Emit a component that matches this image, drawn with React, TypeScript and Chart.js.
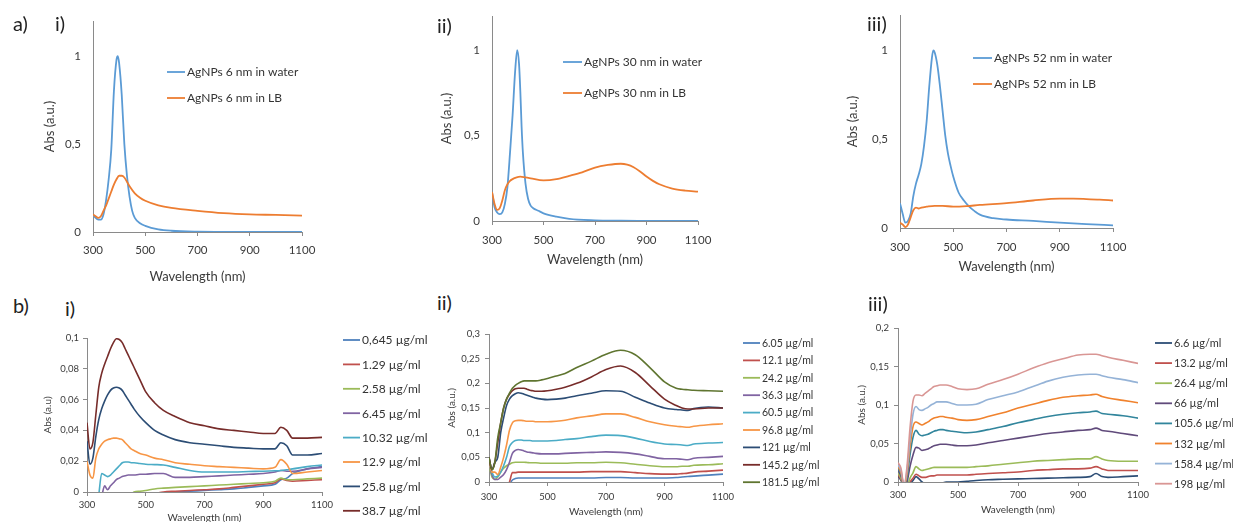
import React, { useEffect, useRef } from 'react';
import { Chart, registerables } from 'chart.js';

Chart.register(...registerables);

const FONT = 'Lato, "Open Sans", "DejaVu Sans", sans-serif';
const AXIS = '#8a8a8a';
const TXT = '#3a3a3a';

// ---------- shared tick values ----------
const xTickValues = [300, 500, 700, 900, 1100];
const yTicksTop = [0, 0.5, 1];
const yTicksB1 = [0, 0.02, 0.04, 0.06, 0.08, 0.1];
const yTicksB2 = [0, 0.05, 0.1, 0.15, 0.2, 0.25, 0.3];
const yTicksB3 = [0, 0.05, 0.1, 0.15, 0.2];

// ---------- a) i) 6 nm ----------
const wlA1water = [300, 310, 320, 330, 340, 350, 360, 370, 380, 390, 395, 400, 410, 420, 430, 440, 450, 460, 480, 500, 550, 600, 700, 800, 900, 1000, 1100];
const waterA1 = [0.10, 0.08, 0.07, 0.07, 0.10, 0.18, 0.30, 0.47, 0.80, 0.98, 1.0, 0.96, 0.78, 0.50, 0.32, 0.20, 0.12, 0.08, 0.05, 0.035, 0.015, 0.007, 0.002, 0.001, 0, 0, 0];
const wlA1lb = [300, 310, 320, 330, 340, 350, 360, 370, 380, 390, 400, 410, 420, 440, 460, 480, 500, 550, 600, 700, 800, 900, 1000, 1100];
const lbA1 = [0.10, 0.09, 0.08, 0.09, 0.12, 0.15, 0.19, 0.23, 0.27, 0.30, 0.32, 0.32, 0.31, 0.26, 0.22, 0.195, 0.178, 0.152, 0.137, 0.12, 0.107, 0.10, 0.097, 0.093];

// ---------- a) ii) 30 nm ----------
const wlA2water = [300, 310, 320, 330, 340, 350, 360, 370, 380, 390, 398, 405, 410, 415, 420, 430, 440, 450, 460, 480, 500, 550, 600, 700, 800, 900, 1000, 1100];
const waterA2 = [0.17, 0.08, 0.05, 0.04, 0.05, 0.10, 0.20, 0.40, 0.62, 0.88, 1.0, 0.92, 0.76, 0.55, 0.40, 0.22, 0.13, 0.09, 0.075, 0.06, 0.045, 0.025, 0.012, 0.004, 0.002, 0.001, 0, 0];
const wlA2lb = [300, 310, 320, 330, 340, 350, 360, 370, 380, 390, 410, 430, 450, 500, 550, 600, 650, 700, 750, 800, 825, 850, 875, 900, 925, 950, 1000, 1050, 1100];
const lbA2 = [0.17, 0.10, 0.065, 0.075, 0.12, 0.18, 0.215, 0.235, 0.245, 0.252, 0.26, 0.255, 0.25, 0.238, 0.245, 0.264, 0.285, 0.313, 0.328, 0.335, 0.33, 0.315, 0.29, 0.26, 0.235, 0.215, 0.19, 0.178, 0.172];

// ---------- a) iii) 52 nm ----------
const wlA3water = [300, 310, 320, 330, 340, 350, 360, 370, 380, 390, 400, 410, 420, 425, 430, 440, 450, 460, 470, 480, 490, 500, 520, 540, 560, 580, 600, 650, 700, 800, 900, 1000, 1100];
const waterA3 = [0.14, 0.08, 0.03, 0.04, 0.08, 0.18, 0.25, 0.30, 0.36, 0.46, 0.60, 0.80, 0.96, 1.0, 0.99, 0.92, 0.80, 0.66, 0.52, 0.42, 0.35, 0.29, 0.20, 0.155, 0.12, 0.095, 0.075, 0.055, 0.048, 0.04, 0.03, 0.022, 0.015];
const wlA3lb = [300, 310, 320, 330, 340, 350, 360, 370, 380, 400, 430, 460, 500, 550, 600, 700, 800, 900, 950, 1000, 1050, 1100];
const lbA3 = [0.03, 0.02, 0.005, 0.02, 0.06, 0.10, 0.115, 0.11, 0.115, 0.12, 0.125, 0.125, 0.12, 0.123, 0.13, 0.14, 0.155, 0.165, 0.165, 0.163, 0.16, 0.155];

// ---------- b) shared wavelength grid ----------
const wlB = [300, 310, 320, 330, 340, 350, 360, 370, 380, 390, 400, 410, 420, 430, 440, 450, 460, 480, 500, 530, 560, 600, 650, 700, 750, 800, 850, 900, 940, 960, 980, 1000, 1050, 1100];

// ---------- b) i) 6 nm concentrations ----------
const b1_0645 = [null, null, null, null, null, null, null, null, null, null, null, null, null, null, null, null, null, null, null, null, -0.001, 0.0, 0.0005, 0.001, 0.0015, 0.002, 0.003, 0.004, 0.005, 0.008, 0.009, 0.012, 0.015, 0.0165];
const b1_129 = [null, null, null, null, null, null, null, null, null, null, null, null, null, null, null, null, null, null, null, -0.001, 0.0, 0.0005, 0.001, 0.0015, 0.002, 0.003, 0.004, 0.005, 0.006, 0.0085, 0.0075, 0.007, 0.0075, 0.008];
const b1_258 = [null, null, null, null, null, null, null, null, null, null, null, null, null, null, null, -0.002, 0.0, 0.0005, 0.001, 0.002, 0.0025, 0.003, 0.0035, 0.004, 0.0045, 0.005, 0.0055, 0.006, 0.007, 0.009, 0.008, 0.008, 0.0085, 0.009];
const b1_645 = [null, null, null, null, null, -0.003, 0.004, 0.0015, 0.004, 0.006, 0.008, 0.009, 0.01, 0.0105, 0.011, 0.011, 0.011, 0.0115, 0.0115, 0.012, 0.012, 0.0095, 0.0095, 0.01, 0.0105, 0.011, 0.0115, 0.012, 0.013, 0.014, 0.0135, 0.0135, 0.015, 0.016];
const b1_1032 = [null, null, null, null, -0.002, 0.012, 0.011, 0.010, 0.011, 0.013, 0.015, 0.017, 0.019, 0.0195, 0.0195, 0.019, 0.019, 0.0185, 0.018, 0.0178, 0.0175, 0.016, 0.014, 0.013, 0.013, 0.013, 0.0133, 0.0135, 0.0138, 0.014, 0.0145, 0.015, 0.0165, 0.0175];
const b1_129b = [0.02, 0.011, 0.009, 0.022, 0.028, 0.031, 0.033, 0.034, 0.0345, 0.035, 0.035, 0.0345, 0.034, 0.032, 0.03, 0.028, 0.027, 0.025, 0.024, 0.022, 0.021, 0.019, 0.018, 0.017, 0.0165, 0.016, 0.0155, 0.015, 0.016, 0.021, 0.018, 0.012, 0.013, 0.014];
const b1_258b = [0.033, 0.018, 0.022, 0.036, 0.047, 0.054, 0.059, 0.063, 0.066, 0.0675, 0.068, 0.0675, 0.066, 0.063, 0.06, 0.057, 0.054, 0.049, 0.045, 0.04, 0.037, 0.034, 0.032, 0.031, 0.030, 0.029, 0.0285, 0.028, 0.028, 0.032, 0.030, 0.024, 0.024, 0.025];
const b1_387 = [0.045, 0.028, 0.032, 0.05, 0.068, 0.077, 0.083, 0.088, 0.093, 0.097, 0.0995, 0.099, 0.097, 0.093, 0.089, 0.085, 0.081, 0.073, 0.065, 0.058, 0.053, 0.049, 0.045, 0.043, 0.041, 0.040, 0.039, 0.038, 0.038, 0.042, 0.040, 0.035, 0.035, 0.0355];

// ---------- b) ii) 30 nm concentrations ----------
const b2_605 = [null, null, null, null, null, null, null, -0.005, 0.004, 0.007, 0.008, 0.008, 0.008, 0.008, 0.008, 0.008, 0.008, 0.008, 0.008, 0.008, 0.008, 0.008, 0.008, 0.009, 0.009, 0.008, 0.008, 0.008, 0.009, 0.01, 0.011, 0.012, 0.014, 0.016];
const b2_121 = [null, null, null, null, null, null, -0.01, 0.0, 0.019, 0.019, 0.02, 0.02, 0.02, 0.02, 0.02, 0.02, 0.02, 0.02, 0.02, 0.02, 0.02, 0.02, 0.021, 0.021, 0.021, 0.019, 0.017, 0.016, 0.016, 0.017, 0.018, 0.02, 0.022, 0.024];
const b2_242 = [0.035, 0.01, 0.005, 0.01, 0.02, 0.028, 0.033, 0.036, 0.039, 0.04, 0.04, 0.04, 0.04, 0.0395, 0.039, 0.039, 0.039, 0.038, 0.038, 0.038, 0.038, 0.039, 0.039, 0.04, 0.039, 0.036, 0.033, 0.031, 0.031, 0.032, 0.032, 0.034, 0.035, 0.037];
const b2_363 = [0.04, 0.015, 0.005, 0.005, 0.01, 0.015, 0.025, 0.04, 0.058, 0.064, 0.066, 0.065, 0.063, 0.061, 0.06, 0.059, 0.058, 0.057, 0.057, 0.057, 0.058, 0.059, 0.06, 0.061, 0.06, 0.057, 0.052, 0.047, 0.047, 0.046, 0.045, 0.048, 0.05, 0.052];
const b2_605b = [0.04, 0.02, 0.01, 0.012, 0.02, 0.033, 0.05, 0.072, 0.08, 0.084, 0.085, 0.085, 0.084, 0.084, 0.084, 0.083, 0.083, 0.083, 0.083, 0.084, 0.086, 0.088, 0.092, 0.095, 0.094, 0.089, 0.082, 0.077, 0.076, 0.075, 0.074, 0.077, 0.079, 0.08];
const b2_968 = [0.045, 0.02, 0.02, 0.015, 0.03, 0.05, 0.075, 0.105, 0.12, 0.124, 0.125, 0.125, 0.124, 0.123, 0.123, 0.123, 0.122, 0.122, 0.122, 0.123, 0.125, 0.13, 0.134, 0.138, 0.138, 0.131, 0.122, 0.116, 0.113, 0.112, 0.111, 0.113, 0.116, 0.118];
const b2_1210 = [0.05, 0.025, 0.04, 0.05, 0.1, 0.13, 0.155, 0.168, 0.175, 0.179, 0.181, 0.18, 0.178, 0.176, 0.174, 0.172, 0.17, 0.168, 0.167, 0.168, 0.17, 0.175, 0.18, 0.185, 0.184, 0.172, 0.16, 0.15, 0.147, 0.146, 0.145, 0.149, 0.152, 0.15];
const b2_1452 = [0.05, 0.025, 0.04, 0.08, 0.12, 0.15, 0.168, 0.178, 0.185, 0.189, 0.19, 0.19, 0.19, 0.188, 0.186, 0.185, 0.184, 0.184, 0.185, 0.188, 0.192, 0.2, 0.213, 0.228, 0.235, 0.222, 0.195, 0.168, 0.155, 0.15, 0.148, 0.148, 0.15, 0.15];
const b2_1815 = [0.05, 0.025, 0.04, 0.09, 0.12, 0.15, 0.168, 0.18, 0.19, 0.196, 0.2, 0.203, 0.205, 0.205, 0.205, 0.205, 0.205, 0.207, 0.21, 0.215, 0.22, 0.232, 0.245, 0.259, 0.267, 0.258, 0.232, 0.203, 0.19, 0.188, 0.187, 0.186, 0.185, 0.184];

// ---------- b) iii) 52 nm concentrations ----------
const b3_66 = [0.008, 0.002, -0.005, -0.005, -0.002, 0.002, 0.007, 0.004, 0.0, -0.002, -0.002, -0.002, -0.002, -0.002, -0.002, -0.001, 0.0, 0.0, 0.0, 0.001, 0.002, 0.003, 0.0035, 0.004, 0.0045, 0.005, 0.0055, 0.006, 0.007, 0.011, 0.007, 0.006, 0.007, 0.008];
const b3_132 = [0.01, 0.003, -0.005, -0.005, 0.0, 0.005, 0.01, 0.008, 0.006, 0.006, 0.007, 0.008, 0.008, 0.009, 0.009, 0.009, 0.009, 0.009, 0.009, 0.009, 0.01, 0.011, 0.012, 0.013, 0.015, 0.016, 0.017, 0.017, 0.018, 0.02, 0.017, 0.015, 0.015, 0.015];
const b3_264 = [0.012, 0.005, -0.005, -0.005, 0.005, 0.012, 0.02, 0.017, 0.015, 0.016, 0.017, 0.018, 0.019, 0.019, 0.019, 0.019, 0.019, 0.019, 0.019, 0.019, 0.02, 0.021, 0.023, 0.025, 0.027, 0.028, 0.029, 0.03, 0.03, 0.033, 0.03, 0.028, 0.027, 0.027];
const b3_660 = [0.015, 0.008, -0.005, 0.0, 0.02, 0.035, 0.045, 0.044, 0.041, 0.042, 0.043, 0.045, 0.047, 0.048, 0.049, 0.049, 0.049, 0.048, 0.047, 0.047, 0.048, 0.051, 0.054, 0.057, 0.06, 0.063, 0.065, 0.067, 0.068, 0.07, 0.067, 0.066, 0.063, 0.06];
const b3_1056 = [0.018, 0.01, -0.005, 0.005, 0.035, 0.058, 0.067, 0.062, 0.06, 0.061, 0.062, 0.064, 0.066, 0.067, 0.068, 0.068, 0.067, 0.066, 0.065, 0.064, 0.065, 0.068, 0.072, 0.077, 0.081, 0.085, 0.088, 0.09, 0.091, 0.092, 0.089, 0.088, 0.086, 0.083];
const b3_1320 = [0.02, 0.012, -0.005, 0.01, 0.045, 0.072, 0.078, 0.076, 0.074, 0.076, 0.078, 0.081, 0.083, 0.084, 0.085, 0.085, 0.084, 0.083, 0.081, 0.08, 0.081, 0.085, 0.09, 0.096, 0.101, 0.106, 0.11, 0.112, 0.113, 0.114, 0.111, 0.109, 0.106, 0.103];
const b3_1584 = [0.022, 0.015, -0.005, 0.015, 0.055, 0.088, 0.098, 0.094, 0.093, 0.095, 0.097, 0.1, 0.102, 0.104, 0.104, 0.104, 0.104, 0.102, 0.1, 0.1, 0.101, 0.107, 0.112, 0.117, 0.124, 0.131, 0.136, 0.139, 0.14, 0.14, 0.138, 0.136, 0.133, 0.129];
const b3_1980 = [0.025, 0.018, -0.005, 0.02, 0.07, 0.105, 0.113, 0.113, 0.112, 0.115, 0.118, 0.121, 0.124, 0.125, 0.126, 0.126, 0.126, 0.124, 0.121, 0.12, 0.121, 0.127, 0.133, 0.14, 0.148, 0.155, 0.16, 0.165, 0.166, 0.166, 0.164, 0.162, 0.158, 0.154];

// ---------- labels ----------
const labelsB1 = ['0,645 µg/ml', '1.29 µg/ml', '2.58 µg/ml', '6.45 µg/ml', '10.32 µg/ml', '12.9 µg/ml', '25.8 µg/ml', '38.7 µg/ml'];
const labelsB2 = ['6.05 µg/ml', '12.1 µg/ml', '24.2 µg/ml', '36.3 µg/ml', '60.5 µg/ml', '96.8 µg/ml', '121 µg/ml', '145.2 µg/ml', '181.5 µg/ml'];
const labelsB3 = ['6.6 µg/ml', '13.2 µg/ml', '26.4 µg/ml', '66 µg/ml', '105.6 µg/ml', '132 µg/ml', '158.4 µg/ml', '198 µg/ml'];

const colorsB1 = ['#4F81BD', '#C0504D', '#9BBB59', '#8064A2', '#4BACC6', '#F79646', '#2C4D75', '#772C2A'];
const colorsB2 = ['#4F81BD', '#C0504D', '#9BBB59', '#8064A2', '#4BACC6', '#F79646', '#2C4D75', '#772C2A', '#5F7530'];
const colorsB3 = ['#2C4D75', '#C0504D', '#9BBB59', '#604A7B', '#31859C', '#F0822D', '#95B3D7', '#D99694'];

type Series = { label: string; color: string; x: number[]; y: (number | null)[] };

type PanelCfg = {
  L: number; T: number; R: number; B: number; right: number;
  tickY: number; titleY: number; yTitleX: number;
  yMax: number; yTicks: number[]; yTitle: string; yTickMarks: boolean; yTickPad: number;
  tickSize: number; titleSize: number; legendSize: number; lineWidth: number;
  legX: number; legLen: number; legRows: number[];
  series: Series[];
};

const lineLegend = {
  id: 'lineLegend',
  afterDraw(chart: any, _args: any, opts: any) {
    if (!opts || !opts.items) return;
    const ctx = chart.ctx;
    ctx.save();
    ctx.font = opts.font;
    ctx.textBaseline = 'middle';
    ctx.textAlign = 'left';
    opts.items.forEach((it: any, i: number) => {
      const y = opts.rows[i];
      ctx.strokeStyle = it.color;
      ctx.lineWidth = opts.lineWidth;
      ctx.beginPath();
      ctx.moveTo(opts.x, y);
      ctx.lineTo(opts.x + opts.len, y);
      ctx.stroke();
      ctx.fillStyle = opts.color;
      ctx.fillText(it.text, opts.x + opts.len + 2, y + 0.5);
    });
    ctx.restore();
  },
};

const fmt = (v: number) => String(Math.round(v * 1000) / 1000).replace('.', ',');

function Panel({ cfg }: { cfg: PanelCfg }) {
  const ref = useRef<HTMLCanvasElement>(null);
  const cx = cfg.L - 70;
  const cy = cfg.T - 12;
  const cw = cfg.right - cx;
  const lhTick = cfg.tickSize * 1.2;
  const lhTitle = cfg.titleSize * 1.2;
  const ch = Math.round(cfg.titleY + lhTitle / 2 - cy);
  const xh = cy + ch - cfg.B;
  const yw = cfg.L - cx;
  const xTickPad = cfg.tickY - cfg.B - 4 - lhTick / 2;
  const yTitlePad = cfg.yTitleX - cx - lhTitle / 2;

  useEffect(() => {
    const n = cfg.series.length;
    const chart = new Chart(ref.current as HTMLCanvasElement, {
      type: 'line',
      data: {
        datasets: cfg.series.map((s, i) => ({
          label: s.label,
          data: s.x.map((x, j) => ({ x, y: s.y[j] })),
          borderColor: s.color,
          backgroundColor: s.color,
          borderWidth: cfg.lineWidth,
          pointRadius: 0,
          cubicInterpolationMode: 'monotone',
          spanGaps: false,
          order: n - i,
        })),
      } as any,
      options: {
        responsive: false,
        animation: false,
        devicePixelRatio: 1,
        events: [],
        layout: { padding: { top: cfg.T - cy, right: cx + cw - cfg.R, left: 0, bottom: 0 } },
        plugins: {
          legend: { display: false },
          tooltip: { enabled: false },
          lineLegend: {
            items: cfg.series.map((s) => ({ text: s.label, color: s.color })),
            x: cfg.legX - cx,
            len: cfg.legLen,
            rows: cfg.legRows.map((r) => r - cy),
            font: `${cfg.legendSize}px ${FONT}`,
            color: '#333333',
            lineWidth: 1.8,
          },
        } as any,
        scales: {
          x: {
            type: 'linear',
            min: 300,
            max: 1100,
            afterBuildTicks: (s: any) => { s.ticks = xTickValues.map((v) => ({ value: v })); },
            afterFit: (s: any) => { s.height = xh; s.paddingLeft = 0; s.paddingRight = 0; s.paddingTop = 0; s.paddingBottom = 0; },
            grid: { display: true, drawOnChartArea: false, drawTicks: true, tickLength: 4, color: AXIS },
            border: { display: true, color: AXIS, width: 1 },
            ticks: { font: { family: FONT, size: cfg.tickSize }, color: TXT, padding: xTickPad, maxRotation: 0, autoSkip: false, callback: (v: any) => String(v) },
            title: { display: true, text: 'Wavelength (nm)', font: { family: FONT, size: cfg.titleSize }, color: TXT, padding: { top: 0, bottom: 0 } },
          },
          y: {
            type: 'linear',
            min: 0,
            max: cfg.yMax,
            afterBuildTicks: (s: any) => { s.ticks = cfg.yTicks.map((v) => ({ value: v })); },
            afterFit: (s: any) => { s.width = yw; s.paddingLeft = 0; s.paddingRight = 0; s.paddingTop = 0; s.paddingBottom = 0; },
            grid: { display: true, drawOnChartArea: false, drawTicks: cfg.yTickMarks, tickLength: 4, color: AXIS },
            border: { display: true, color: AXIS, width: 1 },
            ticks: { font: { family: FONT, size: cfg.tickSize }, color: TXT, padding: cfg.yTickPad, autoSkip: false, callback: (v: any) => fmt(Number(v)) },
            title: { display: true, text: cfg.yTitle, font: { family: FONT, size: cfg.titleSize }, color: TXT, padding: { top: yTitlePad, bottom: 0 } },
          },
        } as any,
      },
      plugins: [lineLegend],
    });
    return () => chart.destroy();
  }, []);

  return (
    <canvas
      ref={ref}
      width={cw}
      height={ch}
      style={{ position: 'absolute', left: cx, top: cy, width: cw, height: ch }}
    />
  );
}

const topSeries = (xw: number[], yw: number[], xl: number[], yl: number[], size: string): Series[] => [
  { label: `AgNPs ${size} nm in water`, color: '#5B9BD5', x: xw, y: yw },
  { label: `AgNPs ${size} nm in LB`, color: '#ED7D31', x: xl, y: yl },
];

const bSeries = (labels: string[], colors: string[], ys: (number | null)[][]): Series[] =>
  labels.map((l, i) => ({ label: l, color: colors[i], x: wlB, y: ys[i] }));

const rows = (start: number, step: number, n: number) => Array.from({ length: n }, (_, i) => start + i * step);

const panels: PanelCfg[] = [
  {
    L: 93, T: 21, R: 302, B: 232, right: 410, tickY: 250, titleY: 277, yTitleX: 50,
    yMax: 1.2, yTicks: yTicksTop, yTitle: 'Abs (a.u.)', yTickMarks: false, yTickPad: 12,
    tickSize: 11.5, titleSize: 13, legendSize: 12, lineWidth: 1.8,
    legX: 167, legLen: 18, legRows: [72, 98],
    series: topSeries(wlA1water, waterA1, wlA1lb, lbA1, '6'),
  },
  {
    L: 492, T: 16, R: 698, B: 221, right: 815, tickY: 240, titleY: 260, yTitleX: 447,
    yMax: 1.2, yTicks: yTicksTop, yTitle: 'Abs (a.u.)', yTickMarks: false, yTickPad: 12,
    tickSize: 11.5, titleSize: 13, legendSize: 12, lineWidth: 1.8,
    legX: 563, legLen: 19, legRows: [62, 93],
    series: topSeries(wlA2water, waterA2, wlA2lb, lbA2, '30'),
  },
  {
    L: 900, T: 15, R: 1113, B: 228, right: 1230, tickY: 247, titleY: 267, yTitleX: 853,
    yMax: 1.2, yTicks: yTicksTop, yTitle: 'Abs (a.u.)', yTickMarks: false, yTickPad: 12,
    tickSize: 11.5, titleSize: 13, legendSize: 12, lineWidth: 1.8,
    legX: 973, legLen: 19, legRows: [58, 84],
    series: topSeries(wlA3water, waterA3, wlA3lb, lbA3, '52'),
  },
  {
    L: 87, T: 338, R: 322, B: 492, right: 436, tickY: 505, titleY: 518, yTitleX: 48,
    yMax: 0.1, yTicks: yTicksB1, yTitle: 'Abs (a.u)', yTickMarks: true, yTickPad: 4,
    tickSize: 9.5, titleSize: 10, legendSize: 12, lineWidth: 1.6,
    legX: 343, legLen: 17, legRows: rows(340, 24.4, 8),
    series: bSeries(labelsB1, colorsB1, [b1_0645, b1_129, b1_258, b1_645, b1_1032, b1_129b, b1_258b, b1_387]),
  },
  {
    L: 489, T: 334, R: 723, B: 482, right: 836, tickY: 497, titleY: 512, yTitleX: 452,
    yMax: 0.3, yTicks: yTicksB2, yTitle: 'Abs (a.u.)', yTickMarks: true, yTickPad: 5,
    tickSize: 9.5, titleSize: 10, legendSize: 10.5, lineWidth: 1.6,
    legX: 743, legLen: 17, legRows: rows(343, 17.4, 9),
    series: bSeries(labelsB2, colorsB2, [b2_605, b2_121, b2_242, b2_363, b2_605b, b2_968, b2_1210, b2_1452, b2_1815]),
  },
  {
    L: 898, T: 328, R: 1138, B: 482, right: 1233, tickY: 495, titleY: 510, yTitleX: 862,
    yMax: 0.2, yTicks: yTicksB3, yTitle: 'Abs (a.u.)', yTickMarks: true, yTickPad: 5,
    tickSize: 9.5, titleSize: 10, legendSize: 11, lineWidth: 1.6,
    legX: 1155, legLen: 17, legRows: rows(343, 20.1, 8),
    series: bSeries(labelsB3, colorsB3, [b3_66, b3_132, b3_264, b3_660, b3_1056, b3_1320, b3_1584, b3_1980]),
  },
];

const panelLabels = [
  { text: 'a)', x: 13, y: 23 },
  { text: 'i)', x: 55, y: 23 },
  { text: 'ii)', x: 437, y: 25 },
  { text: 'iii)', x: 867, y: 23 },
  { text: 'b)', x: 13, y: 305 },
  { text: 'i)', x: 65, y: 308 },
  { text: 'ii)', x: 437, y: 302 },
  { text: 'iii)', x: 868, y: 303 },
];

export default function App() {
  useEffect(() => {
    Chart.defaults.font.family = FONT;
  }, []);
  return (
    <div style={{ position: 'absolute', left: 0, top: 0, width: 1233, height: 522, overflow: 'hidden', background: '#ffffff' }}>
      {panels.map((p, i) => (
        <Panel key={i} cfg={p} />
      ))}
      {panelLabels.map((l, i) => (
        <div
          key={'l' + i}
          style={{ position: 'absolute', left: l.x, top: l.y - 11, fontFamily: FONT, fontSize: 20, lineHeight: '22px', color: '#222222' }}
        >
          {l.text}
        </div>
      ))}
    </div>
  );
}
